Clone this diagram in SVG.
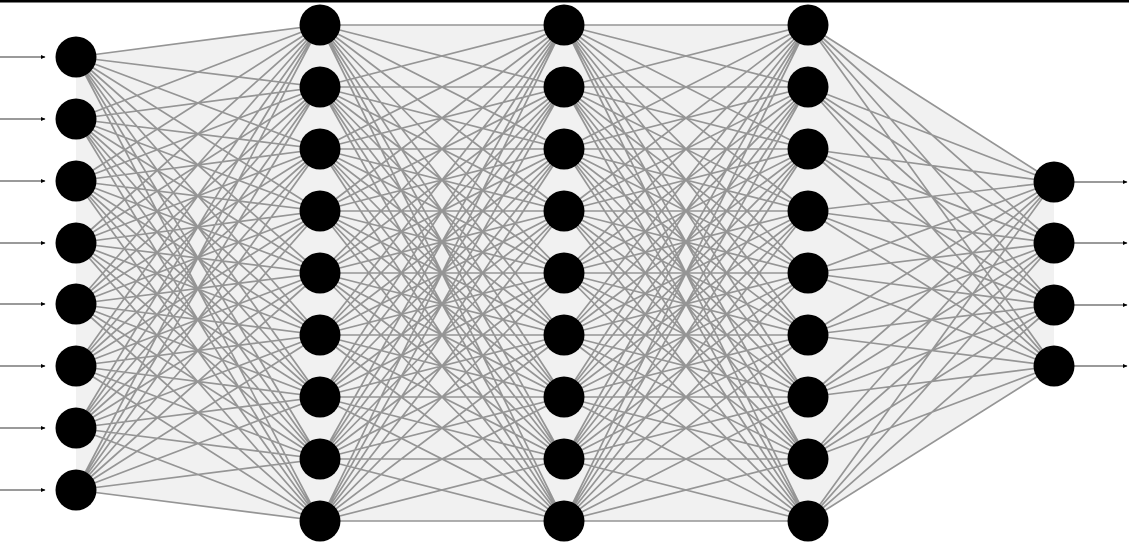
<svg xmlns="http://www.w3.org/2000/svg" width="1129" height="542" viewBox="0 0 1129 542">
<style>
.hull{fill:#f1f1f1;stroke:none}
.conn{fill:none;stroke:#959595;stroke-width:1.7}
.io{fill:none;stroke:#9a9a9a;stroke-width:1.8}
.node{fill:#000}
</style>
<defs>
<marker id="ah" markerUnits="userSpaceOnUse" markerWidth="5" markerHeight="5" refX="4" refY="2.5" orient="auto">
<path d="M0,0.5 L4.5,2.5 L0,4.5 z" fill="#000"/>
</marker>
</defs>
<rect width="1129" height="542" fill="#fff"/>
<rect x="0" y="0" width="1129" height="2.5" fill="#000"/>
<g id="hulls">
<polygon class="hull" points="76,57 320,25 320,521 76,490"/>
<polygon class="hull" points="320,25 564,25 564,521 320,521"/>
<polygon class="hull" points="564,25 808,25 808,521 564,521"/>
<polygon class="hull" points="808,25 1054,182 1054,366 808,521"/>
</g>
<g id="connectors">
<path class="conn" d="M76 57L320 25M76 57L320 87M76 57L320 149M76 57L320 211M76 57L320 273M76 57L320 335M76 57L320 397M76 57L320 459M76 57L320 521
M76 119L320 25M76 119L320 87M76 119L320 149M76 119L320 211M76 119L320 273M76 119L320 335M76 119L320 397M76 119L320 459M76 119L320 521
M76 181L320 25M76 181L320 87M76 181L320 149M76 181L320 211M76 181L320 273M76 181L320 335M76 181L320 397M76 181L320 459M76 181L320 521
M76 243L320 25M76 243L320 87M76 243L320 149M76 243L320 211M76 243L320 273M76 243L320 335M76 243L320 397M76 243L320 459M76 243L320 521
M76 304L320 25M76 304L320 87M76 304L320 149M76 304L320 211M76 304L320 273M76 304L320 335M76 304L320 397M76 304L320 459M76 304L320 521
M76 366L320 25M76 366L320 87M76 366L320 149M76 366L320 211M76 366L320 273M76 366L320 335M76 366L320 397M76 366L320 459M76 366L320 521
M76 428L320 25M76 428L320 87M76 428L320 149M76 428L320 211M76 428L320 273M76 428L320 335M76 428L320 397M76 428L320 459M76 428L320 521
M76 490L320 25M76 490L320 87M76 490L320 149M76 490L320 211M76 490L320 273M76 490L320 335M76 490L320 397M76 490L320 459M76 490L320 521"/>
<path class="conn" d="M320 25L564 25M320 25L564 87M320 25L564 149M320 25L564 211M320 25L564 273M320 25L564 335M320 25L564 397M320 25L564 459M320 25L564 521
M320 87L564 25M320 87L564 87M320 87L564 149M320 87L564 211M320 87L564 273M320 87L564 335M320 87L564 397M320 87L564 459M320 87L564 521
M320 149L564 25M320 149L564 87M320 149L564 149M320 149L564 211M320 149L564 273M320 149L564 335M320 149L564 397M320 149L564 459M320 149L564 521
M320 211L564 25M320 211L564 87M320 211L564 149M320 211L564 211M320 211L564 273M320 211L564 335M320 211L564 397M320 211L564 459M320 211L564 521
M320 273L564 25M320 273L564 87M320 273L564 149M320 273L564 211M320 273L564 273M320 273L564 335M320 273L564 397M320 273L564 459M320 273L564 521
M320 335L564 25M320 335L564 87M320 335L564 149M320 335L564 211M320 335L564 273M320 335L564 335M320 335L564 397M320 335L564 459M320 335L564 521
M320 397L564 25M320 397L564 87M320 397L564 149M320 397L564 211M320 397L564 273M320 397L564 335M320 397L564 397M320 397L564 459M320 397L564 521
M320 459L564 25M320 459L564 87M320 459L564 149M320 459L564 211M320 459L564 273M320 459L564 335M320 459L564 397M320 459L564 459M320 459L564 521
M320 521L564 25M320 521L564 87M320 521L564 149M320 521L564 211M320 521L564 273M320 521L564 335M320 521L564 397M320 521L564 459M320 521L564 521"/>
<path class="conn" d="M564 25L808 25M564 25L808 87M564 25L808 149M564 25L808 211M564 25L808 273M564 25L808 335M564 25L808 397M564 25L808 459M564 25L808 521
M564 87L808 25M564 87L808 87M564 87L808 149M564 87L808 211M564 87L808 273M564 87L808 335M564 87L808 397M564 87L808 459M564 87L808 521
M564 149L808 25M564 149L808 87M564 149L808 149M564 149L808 211M564 149L808 273M564 149L808 335M564 149L808 397M564 149L808 459M564 149L808 521
M564 211L808 25M564 211L808 87M564 211L808 149M564 211L808 211M564 211L808 273M564 211L808 335M564 211L808 397M564 211L808 459M564 211L808 521
M564 273L808 25M564 273L808 87M564 273L808 149M564 273L808 211M564 273L808 273M564 273L808 335M564 273L808 397M564 273L808 459M564 273L808 521
M564 335L808 25M564 335L808 87M564 335L808 149M564 335L808 211M564 335L808 273M564 335L808 335M564 335L808 397M564 335L808 459M564 335L808 521
M564 397L808 25M564 397L808 87M564 397L808 149M564 397L808 211M564 397L808 273M564 397L808 335M564 397L808 397M564 397L808 459M564 397L808 521
M564 459L808 25M564 459L808 87M564 459L808 149M564 459L808 211M564 459L808 273M564 459L808 335M564 459L808 397M564 459L808 459M564 459L808 521
M564 521L808 25M564 521L808 87M564 521L808 149M564 521L808 211M564 521L808 273M564 521L808 335M564 521L808 397M564 521L808 459M564 521L808 521"/>
<path class="conn" d="M808 25L1054 182M808 25L1054 243M808 25L1054 305M808 25L1054 366
M808 87L1054 182M808 87L1054 243M808 87L1054 305M808 87L1054 366
M808 149L1054 182M808 149L1054 243M808 149L1054 305M808 149L1054 366
M808 211L1054 182M808 211L1054 243M808 211L1054 305M808 211L1054 366
M808 273L1054 182M808 273L1054 243M808 273L1054 305M808 273L1054 366
M808 335L1054 182M808 335L1054 243M808 335L1054 305M808 335L1054 366
M808 397L1054 182M808 397L1054 243M808 397L1054 305M808 397L1054 366
M808 459L1054 182M808 459L1054 243M808 459L1054 305M808 459L1054 366
M808 521L1054 182M808 521L1054 243M808 521L1054 305M808 521L1054 366"/>
<line class="io" x1="0" y1="57" x2="45" y2="57" marker-end="url(#ah)"/>
<line class="io" x1="0" y1="119" x2="45" y2="119" marker-end="url(#ah)"/>
<line class="io" x1="0" y1="181" x2="45" y2="181" marker-end="url(#ah)"/>
<line class="io" x1="0" y1="243" x2="45" y2="243" marker-end="url(#ah)"/>
<line class="io" x1="0" y1="304" x2="45" y2="304" marker-end="url(#ah)"/>
<line class="io" x1="0" y1="366" x2="45" y2="366" marker-end="url(#ah)"/>
<line class="io" x1="0" y1="428" x2="45" y2="428" marker-end="url(#ah)"/>
<line class="io" x1="0" y1="490" x2="45" y2="490" marker-end="url(#ah)"/>
<line class="io" x1="1074" y1="182" x2="1127" y2="182" marker-end="url(#ah)"/>
<line class="io" x1="1074" y1="243" x2="1127" y2="243" marker-end="url(#ah)"/>
<line class="io" x1="1074" y1="305" x2="1127" y2="305" marker-end="url(#ah)"/>
<line class="io" x1="1074" y1="366" x2="1127" y2="366" marker-end="url(#ah)"/>
</g>
<g id="input-layer">
<circle id="in1" class="node" cx="76" cy="57" r="20.5"/>
<circle id="in2" class="node" cx="76" cy="119" r="20.5"/>
<circle id="in3" class="node" cx="76" cy="181" r="20.5"/>
<circle id="in4" class="node" cx="76" cy="243" r="20.5"/>
<circle id="in5" class="node" cx="76" cy="304" r="20.5"/>
<circle id="in6" class="node" cx="76" cy="366" r="20.5"/>
<circle id="in7" class="node" cx="76" cy="428" r="20.5"/>
<circle id="in8" class="node" cx="76" cy="490" r="20.5"/>
</g>
<g id="hidden-layer-1">
<circle id="h1n1" class="node" cx="320" cy="25" r="20.5"/>
<circle id="h1n2" class="node" cx="320" cy="87" r="20.5"/>
<circle id="h1n3" class="node" cx="320" cy="149" r="20.5"/>
<circle id="h1n4" class="node" cx="320" cy="211" r="20.5"/>
<circle id="h1n5" class="node" cx="320" cy="273" r="20.5"/>
<circle id="h1n6" class="node" cx="320" cy="335" r="20.5"/>
<circle id="h1n7" class="node" cx="320" cy="397" r="20.5"/>
<circle id="h1n8" class="node" cx="320" cy="459" r="20.5"/>
<circle id="h1n9" class="node" cx="320" cy="521" r="20.5"/>
</g>
<g id="hidden-layer-2">
<circle id="h2n1" class="node" cx="564" cy="25" r="20.5"/>
<circle id="h2n2" class="node" cx="564" cy="87" r="20.5"/>
<circle id="h2n3" class="node" cx="564" cy="149" r="20.5"/>
<circle id="h2n4" class="node" cx="564" cy="211" r="20.5"/>
<circle id="h2n5" class="node" cx="564" cy="273" r="20.5"/>
<circle id="h2n6" class="node" cx="564" cy="335" r="20.5"/>
<circle id="h2n7" class="node" cx="564" cy="397" r="20.5"/>
<circle id="h2n8" class="node" cx="564" cy="459" r="20.5"/>
<circle id="h2n9" class="node" cx="564" cy="521" r="20.5"/>
</g>
<g id="hidden-layer-3">
<circle id="h3n1" class="node" cx="808" cy="25" r="20.5"/>
<circle id="h3n2" class="node" cx="808" cy="87" r="20.5"/>
<circle id="h3n3" class="node" cx="808" cy="149" r="20.5"/>
<circle id="h3n4" class="node" cx="808" cy="211" r="20.5"/>
<circle id="h3n5" class="node" cx="808" cy="273" r="20.5"/>
<circle id="h3n6" class="node" cx="808" cy="335" r="20.5"/>
<circle id="h3n7" class="node" cx="808" cy="397" r="20.5"/>
<circle id="h3n8" class="node" cx="808" cy="459" r="20.5"/>
<circle id="h3n9" class="node" cx="808" cy="521" r="20.5"/>
</g>
<g id="output-layer">
<circle id="out1" class="node" cx="1054" cy="182" r="20.5"/>
<circle id="out2" class="node" cx="1054" cy="243" r="20.5"/>
<circle id="out3" class="node" cx="1054" cy="305" r="20.5"/>
<circle id="out4" class="node" cx="1054" cy="366" r="20.5"/>
</g>
</svg>
